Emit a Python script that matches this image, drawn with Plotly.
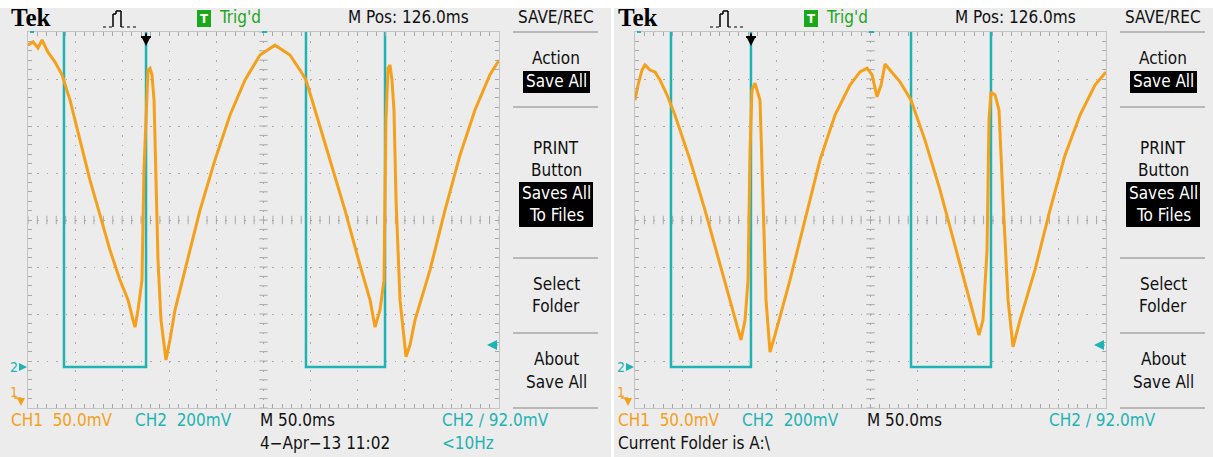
import numpy as np
import plotly.graph_objects as go

W, H = 1213, 457

# ---- captured waveforms (time in ms across the 10-div screen, amplitude in divisions) ----
# Screen 1
ch1_t_a = [0, 5.3, 10.6, 14.9, 21.2, 28.7, 36.1, 44.6, 55.2, 65.8, 76.4, 87.0, 97.7, 106.2,
           111.5, 113.6, 116.8, 121.0, 123.1, 125.3, 127.4, 129.5, 131.6, 133.8, 135.9, 138.0,
           141.2, 146.5, 150.7, 156.1, 166.7, 182.6, 198.5, 214.4, 230.4, 246.3, 262.2, 278.1,
           288.7, 295.1, 304.7, 320.6, 336.5, 352.4, 363.1, 368.4, 373.7, 377.9, 380.0, 382.2,
           384.3, 386.4, 388.5, 390.7, 394.9, 401.3, 405.5, 410.8, 426.8, 442.7, 458.6, 474.5,
           490.4, 500]
ch1_v_a = [3.72, 3.79, 3.66, 3.83, 3.57, 3.36, 3.09, 2.55, 1.70, 0.85, 0.11, -0.64, -1.28, -1.70,
           -2.13, -2.28, -1.91, -1.28, 1.06, 2.34, 3.19, 3.23, 3.09, 2.55, 0.85, -0.85,
           -2.13, -2.98, -2.55, -1.91, -1.06, 0.21, 1.28, 2.23, 2.98, 3.51, 3.72, 3.51,
           3.19, 2.98, 2.34, 1.28, 0.21, -0.96, -1.70, -2.28, -1.91, -1.28, 2.13, 3.23,
           3.30, 2.98, 2.34, 0.43, -1.70, -2.91, -2.66, -2.13, -1.06, 0.21, 1.38, 2.34,
           3.09, 3.40]
ch2_t_a = [0, 38.2, 125.3, 295.1, 379.0, 500]
ch2_v_a = [4.6, -3.13, 4.6, -3.13, 4.6, 4.6]

# Screen 2
ch1_t_b = [0, 3.2, 7.4, 10.6, 15.9, 21.2, 26.5, 34.0, 42.5, 58.4, 74.3, 90.2, 100.8, 109.3,
           112.5, 116.8, 120.0, 122.1, 124.2, 127.4, 130.6, 132.7, 135.9, 139.1, 143.3, 148.6,
           164.5, 180.5, 196.4, 212.3, 228.2, 238.8, 246.3, 251.6, 256.9, 261.2, 265.4, 270.7,
           281.3, 293.0, 307.8, 323.8, 339.7, 353.5, 360.9, 365.2, 369.4, 373.7, 375.8, 377.9,
           382.2, 386.4, 390.7, 396.0, 401.3, 408.7, 424.6, 440.5, 456.5, 472.4, 488.3, 500]
ch1_v_b = [2.55, 2.87, 3.19, 3.30, 3.19, 3.15, 2.98, 2.66, 2.23, 1.28, 0.21, -0.96, -1.70, -2.34,
           -2.55, -2.13, -1.28, 1.49, 2.77, 2.91, 2.66, 2.55, 0.43, -1.70, -2.81, -2.45,
           -1.28, 0.00, 1.28, 2.23, 2.87, 3.15, 3.23, 3.09, 2.62, 2.87, 3.32, 3.19,
           2.94, 2.55, 1.70, 0.64, -0.53, -1.60, -2.13, -2.45, -2.13, -0.64, 2.13, 2.72,
           2.66, 2.34, 0.43, -1.70, -2.70, -2.13, -1.06, 0.21, 1.38, 2.23, 2.87, 3.15]
ch2_t_b = [0, 38.2, 123.1, 293.0, 377.9, 500]
ch2_v_b = [4.6, -3.13, 4.6, -3.13, 4.6, 4.6]

CH1_COLOR = "#f5a01a"
CH2_COLOR = "#1fb3b3"
GRID = "#a8a8a8"
PANEL_BG = "#ececec"
FONT = "DejaVu Sans Condensed, Liberation Sans Narrow, sans-serif"
FS = 17


def fx(x):
    return x / W


def fy(y):
    return 1 - y / H


# screen geometry (pixels), second screen is shifted right
OFFSETS = [0, 607]
GX0, GX1, GY0, GY1 = 28, 499, 32, 408

fig = go.Figure()

shapes = []
annotations = []


def text(x, y, s, color="#111111", size=FS, anchor="left", family=FONT, bg=None, **kw):
    annotations.append(dict(
        x=fx(x), y=fy(y), xref="paper", yref="paper", text=s, showarrow=False,
        xanchor=anchor, yanchor="middle", font=dict(family=family, size=size, color=color),
        bgcolor=bg, borderpad=0, **kw))


def line(x0, y0, x1, y1, color, width=1.0, dash="solid"):
    shapes.append(dict(type="line", xref="paper", yref="paper", x0=fx(x0), y0=fy(y0),
                       x1=fx(x1), y1=fy(y1), line=dict(color=color, width=width, dash=dash)))


def rect(x0, y0, x1, y1, fill, layer="below"):
    shapes.append(dict(type="rect", xref="paper", yref="paper", x0=fx(x0), y0=fy(y0),
                       x1=fx(x1), y1=fy(y1), fillcolor=fill, line=dict(width=0), layer=layer))


# panel backgrounds
rect(0, 8, 611, H, PANEL_BG)
rect(614, 8, W, H, PANEL_BG)

datasets = [
    (ch1_t_a, ch1_v_a, ch2_t_a, ch2_v_a, True),
    (ch1_t_b, ch1_v_b, ch2_t_b, ch2_v_b, False),
]

graticule_x = np.arange(0, 500.1, 10)
graticule_y = np.arange(-4, 4.01, 0.2)

for i, (t1, v1, t2, v2, first) in enumerate(datasets):
    o = OFFSETS[i]
    xa = "x" if i == 0 else "x2"
    ya = "y" if i == 0 else "y2"
    # centre-line graticule ticks
    fig.add_trace(go.Scatter(x=graticule_x, y=[0] * len(graticule_x), mode="markers",
                             marker=dict(symbol="line-ns-open", size=6, color=GRID,
                                         line=dict(width=1, color=GRID)),
                             xaxis=xa, yaxis=ya, hoverinfo="skip", showlegend=False))
    fig.add_trace(go.Scatter(x=[250] * len(graticule_y), y=graticule_y, mode="markers",
                             marker=dict(symbol="line-ew-open", size=6, color=GRID,
                                         line=dict(width=1, color=GRID)),
                             xaxis=xa, yaxis=ya, hoverinfo="skip", showlegend=False))
    # CH2 square wave
    fig.add_trace(go.Scatter(x=t2, y=v2, mode="lines", line=dict(color=CH2_COLOR, width=2.5, shape="hv"),
                             xaxis=xa, yaxis=ya, hoverinfo="skip", showlegend=False))
    # CH1 signal
    fig.add_trace(go.Scatter(x=t1, y=v1, mode="lines", line=dict(color=CH1_COLOR, width=3),
                             xaxis=xa, yaxis=ya, hoverinfo="skip", showlegend=False))

    # header
    text(o + 10, 18, "<b>Tek</b>", color="#000000", size=25, family="Liberation Serif, serif")
    # acquisition pulse icon
    line(o + 103, 27, o + 113, 27, "#000000", 1.2, "dot")
    line(o + 113, 27, o + 113, 14, "#000000", 1.5)
    line(o + 113, 14, o + 116, 14, "#000000", 1.5)
    line(o + 116, 14, o + 116, 11, "#000000", 1.5)
    line(o + 116, 11, o + 121, 11, "#000000", 1.5)
    line(o + 121, 11, o + 121, 27, "#000000", 1.5)
    line(o + 121, 27, o + 136, 27, "#000000", 1.2, "dot")
    rect(o + 197, 10, o + 211, 27, "#18a818", layer="above")
    text(o + 204, 18.5, "<b>T</b>", color="#ffffff", size=13, anchor="center")
    text(o + 218, 17, "Trig'd", color="#1da51d")
    text(o + 347, 17, "M Pos: 126.0ms")

    # side menu
    text(o + 556, 17, "SAVE/REC", anchor="center")
    for sy in (32, 107, 258, 333, 408):
        line(o + 513, sy, o + 598, sy, "#b8b8b8", 2)
    text(o + 556, 58, "Action", anchor="center")
    rect(o + 523, 71, o + 590, 93, "#000000", layer="above")
    text(o + 556, 81, "Save All", color="#ffffff", anchor="center")
    text(o + 556, 148, "PRINT", anchor="center")
    text(o + 556, 170, "Button", anchor="center")
    rect(o + 519, 182, o + 593, 227, "#000000", layer="above")
    text(o + 556, 193, "Saves All", color="#ffffff", anchor="center")
    text(o + 556, 215, "To Files", color="#ffffff", anchor="center")
    text(o + 556, 284, "Select", anchor="center")
    text(o + 556, 306, "Folder", anchor="center")
    text(o + 556, 359, "About", anchor="center")
    text(o + 556, 382, "Save All", anchor="center")

    # channel markers
    text(o + 9, 367, "2", color=CH2_COLOR, size=14)
    annotations.append(dict(x=fx(o + 27), y=fy(367), xref="paper", yref="paper", text="",
                            showarrow=True, ax=-7, ay=0, arrowhead=2, arrowsize=0.8,
                            arrowwidth=2, arrowcolor=CH2_COLOR))
    text(o + 9, 392, "1", color=CH1_COLOR, size=14)
    annotations.append(dict(x=fx(o + 21), y=fy(406), xref="paper", yref="paper", text="",
                            showarrow=True, ax=0, ay=-8, arrowhead=2, arrowsize=0.8,
                            arrowwidth=2, arrowcolor=CH1_COLOR))
    line(o + 14, 398, o + 21, 398, CH1_COLOR, 1.5)
    # trigger level arrow
    annotations.append(dict(x=fx(o + 487), y=fy(345), xref="paper", yref="paper", text="",
                            showarrow=True, ax=12, ay=0, arrowhead=2, arrowsize=1,
                            arrowwidth=2, arrowcolor=CH2_COLOR))
    # trigger position marker
    trig_px = o + (146 if first else 751 - 607)
    annotations.append(dict(x=fx(trig_px), y=fy(46), xref="paper", yref="paper", text="",
                            showarrow=True, ax=0, ay=-14, arrowhead=2, arrowsize=1,
                            arrowwidth=2, arrowcolor="#000000"))
    line(trig_px - 5, 37, trig_px + 5, 37, "#000000", 2)
    # top border pointers
    line(o + 30, 32, o + 34, 32, CH2_COLOR, 2)
    line(o + 262, 32, o + 267, 32, CH2_COLOR, 2)

    # status line
    text(o + 10, 420, "CH1  50.0mV", color=CH1_COLOR)
    text(o + 134, 420, "CH2  200mV", color=CH2_COLOR)
    text(o + 259, 420, "M 50.0ms")
    text(o + 441, 420, "CH2 \u2215 92.0mV", color=CH2_COLOR)
    if first:
        text(o + 259, 443, "4\u2212Apr\u221213 11:02")
        text(o + 441, 443, "&lt;10Hz", color=CH2_COLOR)
    else:
        text(o + 10, 443, "Current Folder is A:\\")


def axis_x(o):
    return dict(domain=[fx(GX0 + o), fx(GX1 + o)], range=[0, 500], showticklabels=False,
                showgrid=True, gridcolor=GRID, griddash="1.5px,7.9px", gridwidth=1,
                dtick=50, tick0=0, ticks="inside", ticklen=4, tickcolor=GRID,
                minor=dict(dtick=10, ticks="inside", ticklen=4, tickcolor=GRID, showgrid=False),
                showline=True, linecolor="#c4c4c4", linewidth=1, mirror="allticks",
                zeroline=False, fixedrange=True)


def axis_y(anchor):
    return dict(domain=[fy(GY1), fy(GY0)], range=[-4, 4], showticklabels=False,
                showgrid=True, gridcolor=GRID, griddash="1.5px,7.9px", gridwidth=1,
                dtick=1, tick0=0, ticks="inside", ticklen=4, tickcolor=GRID,
                minor=dict(dtick=0.2, ticks="inside", ticklen=4, tickcolor=GRID, showgrid=False),
                showline=True, linecolor="#c4c4c4", linewidth=1, mirror="allticks",
                zeroline=False, fixedrange=True, anchor=anchor)


fig.update_layout(
    width=W, height=H, margin=dict(l=0, r=0, t=0, b=0),
    paper_bgcolor="#ffffff", plot_bgcolor="#ffffff",
    xaxis=dict(axis_x(0), anchor="y"),
    yaxis=axis_y("x"),
    xaxis2=dict(axis_x(OFFSETS[1]), anchor="y2"),
    yaxis2=axis_y("x2"),
    shapes=shapes, annotations=annotations, showlegend=False,
)

fig.write_html("out.html", config={"displayModeBar": False})
